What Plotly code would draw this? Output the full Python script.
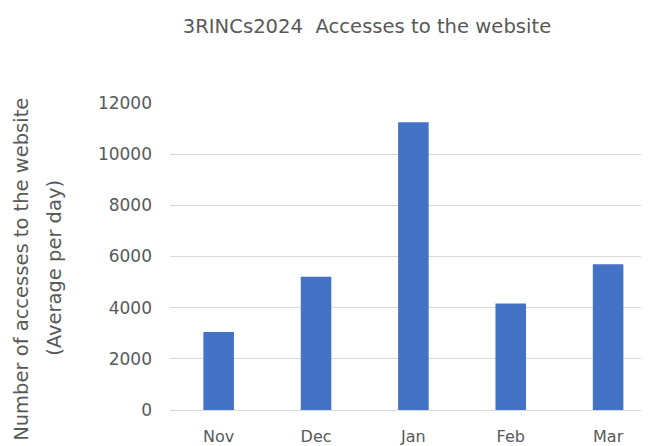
import plotly.graph_objects as go

months = ["Nov", "Dec", "Jan", "Feb", "Mar"]
accesses = [3045, 5205, 11245, 4165, 5695]
y_ticks = [0, 2000, 4000, 6000, 8000, 10000, 12000]

title_text = "3RINCs2024  Accesses to the website"
ytitle_line1 = "Number of accesses to the website"
ytitle_line2 = "(Average per day)"

FONT = "DejaVu Sans"
GRAY = "#595959"

# page body has an 8px margin, so the figure is sized to fit inside the window
W, H = 641, 438
OFF = 8

fig = go.Figure(
    go.Bar(
        x=list(range(len(months))),
        y=accesses,
        marker=dict(color="#4472C4", line=dict(width=0)),
        width=0.314,
    )
)

fig.update_layout(
    width=W,
    height=H,
    margin=dict(l=170 - OFF, r=0, t=103 - OFF, b=32, pad=0),
    paper_bgcolor="white",
    plot_bgcolor="white",
    showlegend=False,
    font=dict(family=FONT, color=GRAY),
    title=dict(
        text=title_text,
        x=(367 - OFF) / W,
        xanchor="center",
        y=1 - (26 - OFF) / H,
        yanchor="middle",
        font=dict(family=FONT, size=19.6, color=GRAY),
    ),
)

fig.update_xaxes(
    range=[-0.5, 4.42],
    tickmode="array",
    tickvals=list(range(len(months))),
    ticktext=months,
    showgrid=False,
    showline=False,
    zeroline=False,
    ticks="",
    tickfont=dict(family=FONT, size=16, color=GRAY),
    ticklabelstandoff=15,
)

fig.update_yaxes(
    range=[0, 12000],
    tickmode="array",
    tickvals=y_ticks,
    ticktext=[str(v) for v in y_ticks],
    showgrid=True,
    gridcolor="#d9d9d9",
    gridwidth=1,
    zeroline=True,
    zerolinecolor="#d9d9d9",
    zerolinewidth=1,
    showline=False,
    ticks="",
    tickfont=dict(family=FONT, size=17, color=GRAY),
    ticklabelstandoff=17,
)

fig.add_annotation(
    text=ytitle_line1,
    xref="paper", yref="paper",
    x=-(170 - 22) / 479, xanchor="center",
    y=(414 - 272) / 311, yanchor="middle",
    textangle=-90,
    showarrow=False,
    font=dict(family=FONT, size=19.5, color=GRAY),
)
fig.add_annotation(
    text=ytitle_line2,
    xref="paper", yref="paper",
    x=-(170 - 55) / 479, xanchor="center",
    y=(414 - 270) / 311, yanchor="middle",
    textangle=-90,
    showarrow=False,
    font=dict(family=FONT, size=19.5, color=GRAY),
)

fig.write_html("out.html")
